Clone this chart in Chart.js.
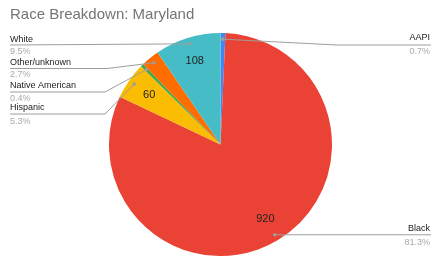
<!DOCTYPE html>
<html>
<head>
<meta charset="utf-8">
<script src="https://cdn.jsdelivr.net/npm/chart.js@4.4.1/dist/chart.umd.min.js"></script>
<style>
html,body{margin:0;padding:0;background:#fff;}
#wrap{position:relative;width:431px;height:256px;}
</style>
</head>
<body>
<div id="wrap"><canvas id="c" width="431" height="256"></canvas></div>
<script>
// ---- data ----
const categories = ["AAPI", "Black", "Hispanic", "Native American", "Other/unknown", "White"];
const counts = [8, 920, 60, 5, 30, 108];
const colors = ["#4285F4", "#EA4335", "#FBBC04", "#34A853", "#FF6D01", "#46BDC6"];
const titleText = "Race Breakdown: Maryland";

// ---- label layout (text placement, not data) ----
const labelLayout = {
  "AAPI":            {side: "right", nameY: 38,  pctY: 51.5, lineY: 45,  elbowX: 337},
  "Black":           {side: "right", nameY: 229, pctY: 242.5, lineY: null, elbowX: null},
  "Hispanic":        {side: "left",  nameY: 108, pctY: 121.5, lineY: 114, elbowX: 105},
  "Native American": {side: "left",  nameY: 86,  pctY: 98.5,  lineY: 92,  elbowX: 105},
  "Other/unknown":   {side: "left",  nameY: 63,  pctY: 75,  lineY: 68.5, elbowX: 107},
  "White":           {side: "left",  nameY: 39.5, pctY: 52,  lineY: 45,  elbowX: null}
};

const total = counts.reduce((a, b) => a + b, 0);
const FONT = "'Liberation Sans', Arial, sans-serif";

const labelPlugin = {
  id: "sheetLabels",
  afterDraw(chart) {
    const ctx = chart.ctx;
    const meta = chart.getDatasetMeta(0);
    ctx.save();
    ctx.fillStyle = "#757575";
    ctx.font = "15px " + FONT;
    ctx.textAlign = "left";
    ctx.textBaseline = "middle";
    ctx.fillText(titleText, 10, 15);

    meta.data.forEach((arc, i) => {
      const p = arc.getProps(["x", "y", "startAngle", "endAngle", "outerRadius"], true);
      const mid = (p.startAngle + p.endAngle) / 2;
      const frac = counts[i] / total;
      if (frac > 0.05) {
        const r = p.outerRadius * 0.78;
        ctx.fillStyle = "#222";
        ctx.font = "11px " + FONT;
        ctx.textAlign = "center";
        ctx.textBaseline = "middle";
        ctx.fillText(String(counts[i]), p.x + Math.cos(mid) * r, p.y + Math.sin(mid) * r);
      }
      const L = labelLayout[categories[i]];
      const dr = p.outerRadius * 0.945;
      const dx = p.x + Math.cos(mid) * dr;
      const dy = p.y + Math.sin(mid) * dr;
      const lineY = L.lineY == null ? dy : L.lineY;
      ctx.strokeStyle = "#9e9e9e";
      ctx.lineWidth = 1;
      ctx.beginPath();
      if (L.side === "left") {
        ctx.moveTo(10, lineY);
        if (L.elbowX != null) ctx.lineTo(L.elbowX, lineY);
        ctx.lineTo(dx, dy);
      } else {
        ctx.moveTo(dx, dy);
        if (L.elbowX != null) ctx.lineTo(L.elbowX, lineY);
        ctx.lineTo(chart.width, lineY);
      }
      ctx.stroke();
      ctx.fillStyle = "#9e9e9e";
      ctx.beginPath();
      ctx.arc(dx, dy, 1.8, 0, Math.PI * 2);
      ctx.fill();
      const tx = L.side === "left" ? 10 : chart.width - 1;
      ctx.textAlign = L.side === "left" ? "left" : "right";
      ctx.textBaseline = "middle";
      ctx.font = "9px " + FONT;
      ctx.fillStyle = "#222";
      ctx.fillText(categories[i], tx, L.nameY);
      ctx.fillStyle = "#aaaaaa";
      ctx.fillText((frac * 100).toFixed(1) + "%", tx, L.pctY);
    });
    ctx.restore();
  }
};

new Chart(document.getElementById("c"), {
  type: "pie",
  data: {
    labels: categories,
    datasets: [{
      data: counts,
      backgroundColor: colors,
      borderWidth: 0
    }]
  },
  options: {
    responsive: false,
    animation: false,
    layout: {padding: {top: 33, bottom: 0, left: 109, right: 99}},
    plugins: {legend: {display: false}, tooltip: {enabled: false}, title: {display: false}}
  },
  plugins: [labelPlugin]
});
</script>
</body>
</html>
